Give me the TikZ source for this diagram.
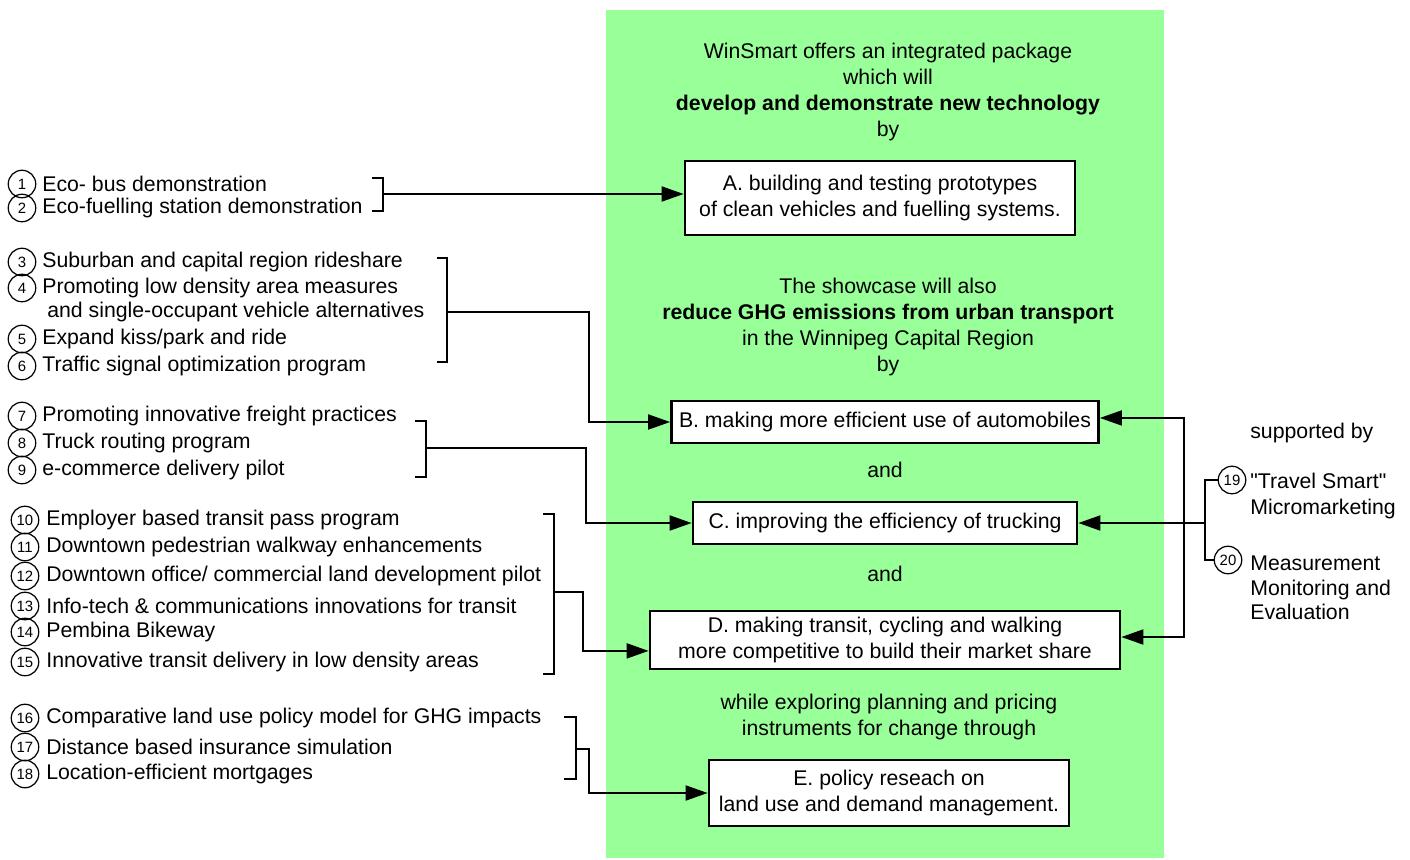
\documentclass[tikz,border=0pt]{standalone}
\usepackage{fontspec}
\setmainfont{Liberation Sans}[Ligatures=TeXOff]
\usetikzlibrary{arrows.meta,positioning,calc}
\definecolor{panel}{RGB}{153,255,153}

\begin{document}
\begin{tikzpicture}[
  x=0.02cm, y=-0.02cm,
  every node/.style={font=\fontsize{12.1}{14.7}\selectfont},
  box/.style={draw, line width=1.6pt, fill=white, align=center, inner sep=0pt},
  num/.style={draw, circle, line width=0.7pt, minimum size=0.55cm,
              inner sep=0pt, font=\fontsize{8.5}{9}\selectfont},
  item/.style={anchor=west, inner sep=0pt},
  note/.style={align=center, inner sep=0pt},
  wire/.style={line width=1.1pt},
  link/.style={wire, -{Triangle[length=0.44cm,width=0.3cm]}}]

\useasboundingbox (0,0) rectangle (1410,859);

% ---- the green panel and its text --------------------------------------
\fill[panel] (606,10) rectangle (1164,858);
\node[note] (intro) at (888,92) {WinSmart offers an integrated package\\
  which will\\ \textbf{develop and demonstrate new technology}\\ by};
\node[note] (also) at (888,327) {The showcase will also\\
  \textbf{reduce GHG emissions from urban transport}\\
  in the Winnipeg Capital Region\\ by};
\node[note] (and1) at (885,470) {and};
\node[note] (and2) at (885,574) {and};
\node[note] (while) at (889,717) {while exploring planning and pricing\\
  instruments for change through};

% ---- the five boxes ----------------------------------------------------
\node[box, minimum width=7.8cm, minimum height=1.48cm] (boxA) at (880,198)
  {A. building and testing prototypes\\ of clean vehicles and fuelling systems.};
\node[box, minimum width=8.54cm, minimum height=0.84cm] (boxB) at (885,422)
  {B. making more efficient use of automobiles};
\node[box, minimum width=7.68cm, minimum height=0.84cm] (boxC) at (885,523)
  {C. improving the efficiency of trucking};
\node[box, minimum width=9.4cm, minimum height=1.16cm] (boxD) at (885,640)
  {D. making transit, cycling and walking\\ more competitive to build their market share};
\node[box, minimum width=7.2cm, minimum height=1.32cm] (boxE) at (889,793)
  {E. policy reseach on\\ land use and demand management.};

% ---- numbered projects on the left -------------------------------------
\node[num] (n1) at (22,184) {1};
\node[item] (t1) at (42,184) {Eco- bus demonstration};
\node[num] (n2) at (22,208) {2};
\node[item] (t2) at (42,208) {Eco-fuelling station demonstration};
\node[num] (n3) at (22,262) {3};
\node[item] (t3) at (42,262) {Suburban and capital region rideshare};
\node[num] (n4) at (22,288) {4};
\node[item] (t4) at (42,288) {Promoting low density area measures};
\node[item] (t4b) at (47,312) {and single-occupant vehicle alternatives};
\node[num] (n5) at (22,339) {5};
\node[item] (t5) at (42,339) {Expand kiss/park and ride};
\node[num] (n6) at (22,366) {6};
\node[item] (t6) at (42,366) {Traffic signal optimization program};
\node[num] (n7) at (22,416) {7};
\node[item] (t7) at (42,416) {Promoting innovative freight practices};
\node[num] (n8) at (22,443) {8};
\node[item] (t8) at (42,443) {Truck routing program};
\node[num] (n9) at (22,470) {9};
\node[item] (t9) at (42,470) {e-commerce delivery pilot};
\node[num] (n10) at (25,520) {10};
\node[item] (t10) at (46,520) {Employer based transit pass program};
\node[num] (n11) at (25,547) {11};
\node[item] (t11) at (46,547) {Downtown pedestrian walkway enhancements};
\node[num] (n12) at (25,576) {12};
\node[item] (t12) at (46,576) {Downtown office/ commercial land development pilot};
\node[num] (n13) at (25,606) {13};
\node[item] (t13) at (46,606) {Info-tech \& communications innovations for transit};
\node[num] (n14) at (25,632) {14};
\node[item] (t14) at (46,632) {Pembina Bikeway};
\node[num] (n15) at (25,662) {15};
\node[item] (t15) at (46,662) {Innovative transit delivery in low density areas};
\node[num] (n16) at (25,718) {16};
\node[item] (t16) at (46,718) {Comparative land use policy model for GHG impacts};
\node[num] (n17) at (25,747) {17};
\node[item] (t17) at (46,747) {Distance based insurance simulation};
\node[num] (n18) at (25,774) {18};
\node[item] (t18) at (46,774) {Location-efficient mortgages};

% ---- brackets gathering each group, and their arrows -------------------
\draw[wire] (372,178) -| (383,211) -- (372,211);
\draw[wire] (437,258) -| (447,362) -- (437,362);
\draw[wire] (415,421) -| (426,477) -- (415,477);
\draw[wire] (543,514) -| (554,674) -- (543,674);
\draw[wire] (564,717) -| (576,779) -- (564,779);
\coordinate (b1) at (383,194);
\coordinate (b2) at (447,312);
\coordinate (b3) at (426,448);
\coordinate (b4) at (554,592);
\coordinate (b5) at (576,749);

\draw[link] (b1) -- (b1 -| boxA.west);
\draw[link] (b2) -- ++(142,0) |- (boxB.west);
\draw[link] (b3) -- ++(160,0) |- (boxC.west);
\draw[link] (b4) -- ++(29,0) |- ([yshift=-6.2pt]boxD.west);
\draw[link] (b5) -- ++(13,0) |- (boxE.west);

% ---- supporting programs on the right ----------------------------------
\node[item] (sup) at (1250,433) {supported by};
\node[num] (c19) at (1232,480) {19};
\node[item, align=left] (s19) at (1250,496) {"Travel Smart"\\ Micromarketing};
\node[num] (c20) at (1228,560) {20};
\node[item, align=left, font=\fontsize{12.1}{14}\selectfont] (s20) at (1250,588)
  {Measurement\\ Monitoring and\\ Evaluation};

\coordinate (b6) at (1205,523);
\coordinate (jr) at (1184,523);
\draw[wire] (c19.west) -| (b6) |- (c20.west);
\draw[link] (b6) -- (boxC.east);
\draw[link] (jr) |- ([yshift=2.3pt]boxB.east);
\draw[link] (jr) |- ([yshift=1.7pt]boxD.east);
\end{tikzpicture}
\end{document}
